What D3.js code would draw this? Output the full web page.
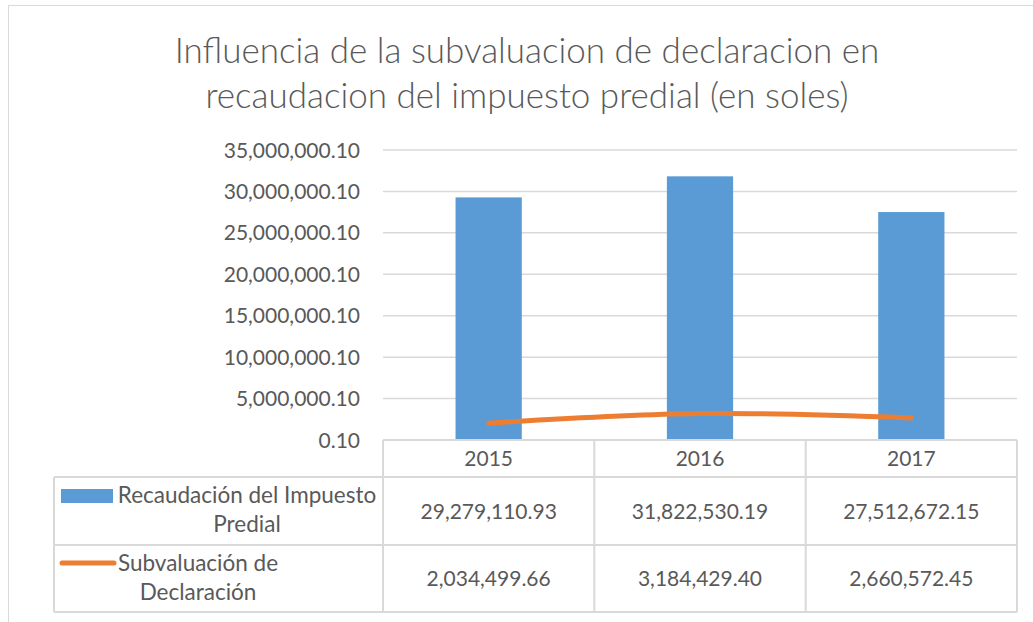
<!DOCTYPE html>
<html>
<head>
<meta charset="utf-8">
<script src="https://cdn.jsdelivr.net/npm/d3@7"></script>
<style>
  body { margin: 0; background: #fff; }
  svg text { font-family: Lato, "Open Sans", sans-serif; fill: #595959; }
</style>
</head>
<body>
<div id="chart"></div>
<script>
const years = ['2015', '2016', '2017'];
const recaudacion = [29279110.93, 31822530.19, 27512672.15];
const subvaluacion = [2034499.66, 3184429.40, 2660572.45];
const yTicks = [0.1, 5000000.1, 10000000.1, 15000000.1, 20000000.1, 25000000.1, 30000000.1, 35000000.1];
const seriesNames = [['Recaudación del Impuesto', 'Predial'], ['Subvaluación de', 'Declaración']];
const titleLines = ['Influencia de la subvaluacion de declaracion en', 'recaudacion del impuesto predial (en soles)'];

const width = 1033, height = 622;
const blue = '#5B9BD5', orange = '#ED7D31', grid = '#D9D9D9';

const svg = d3.select('#chart').append('svg')
    .attr('width', width)
    .attr('height', height);

// chart area border
svg.append('rect')
    .attr('x', 8.5).attr('y', 5.5)
    .attr('width', 1100).attr('height', 700)
    .attr('fill', 'none')
    .attr('stroke', grid);

// title
svg.append('g').selectAll('text')
    .data(titleLines)
  .enter().append('text')
    .attr('x', 527)
    .attr('y', (d, i) => 63 + i * 45)
    .attr('text-anchor', 'middle')
    .style('font-size', '35px')
    .style('font-weight', 300)
    .text(d => d);

const x = d3.scaleBand().domain(years).range([383, 1017]);
const y = d3.scaleLinear().domain([0.1, 35000000.1]).range([440, 150]);
const barW = x.bandwidth() / 3.19;
const fmt = d3.format(',.2f');

// gridlines
svg.append('g').selectAll('line')
    .data(yTicks.slice(1))
  .enter().append('line')
    .attr('x1', 383).attr('x2', 1017)
    .attr('y1', d => y(d)).attr('y2', d => y(d))
    .attr('stroke', grid)
    .attr('stroke-width', 1.5);

// y labels
svg.append('g').selectAll('text')
    .data(yTicks)
  .enter().append('text')
    .attr('x', 360)
    .attr('y', d => y(d) + 7.5)
    .attr('text-anchor', 'end')
    .style('font-size', '21px')
    .text(d => fmt(d));

// bars
svg.append('g').selectAll('rect')
    .data(recaudacion)
  .enter().append('rect')
    .attr('x', (d, i) => x(years[i]) + (x.bandwidth() - barW) / 2)
    .attr('y', d => y(d))
    .attr('width', barW)
    .attr('height', d => y(0.1) - y(d))
    .attr('fill', blue);

// line
const line = d3.line()
    .x((d, i) => x(years[i]) + x.bandwidth() / 2)
    .y(d => y(d))
    .curve(d3.curveCatmullRom.alpha(0.5));

svg.append('path')
    .datum(subvaluacion)
    .attr('d', line)
    .attr('fill', 'none')
    .attr('stroke', orange)
    .attr('stroke-width', 5)
    .attr('stroke-linecap', 'round');

// data table
const rowTop = [440, 477, 545, 612];
const table = svg.append('g')
    .attr('stroke', grid)
    .attr('stroke-width', 2)
    .attr('fill', 'none');

table.append('line').attr('x1', 383).attr('x2', 1017).attr('y1', 440).attr('y2', 440);
[477, 545, 612].forEach(v => {
  table.append('line').attr('x1', 54).attr('x2', 1017).attr('y1', v).attr('y2', v);
});
table.append('line').attr('x1', 54).attr('x2', 54).attr('y1', 477).attr('y2', 612);
years.concat(['end']).forEach((d, i) => {
  const xv = i < years.length ? x(d) : 1017;
  table.append('line').attr('x1', xv).attr('x2', xv).attr('y1', 440).attr('y2', 612);
});

// header years
svg.append('g').selectAll('text')
    .data(years)
  .enter().append('text')
    .attr('x', d => x(d) + x.bandwidth() / 2)
    .attr('y', 466)
    .attr('text-anchor', 'middle')
    .style('font-size', '21px')
    .text(d => d);

// values
[recaudacion, subvaluacion].forEach((series, r) => {
  svg.append('g').selectAll('text')
      .data(series)
    .enter().append('text')
      .attr('x', (d, i) => x(years[i]) + x.bandwidth() / 2)
      .attr('y', (rowTop[r + 1] + rowTop[r + 2]) / 2 + 7.5)
      .attr('text-anchor', 'middle')
      .style('font-size', '21px')
      .text(d => fmt(d));
});

// legend labels
const labelCx = [247, 198];
const baseY = [503, 571];
seriesNames.forEach((lines, r) => {
  lines.forEach((t, k) => {
    svg.append('text')
        .attr('x', labelCx[r])
        .attr('y', baseY[r] + k * 29)
        .attr('text-anchor', 'middle')
        .style('font-size', '22.5px')
        .text(t);
  });
});

// legend keys
svg.append('rect')
    .attr('x', 61).attr('y', 489)
    .attr('width', 52).attr('height', 14)
    .attr('fill', blue);
svg.append('line')
    .attr('x1', 62).attr('x2', 114)
    .attr('y1', 563).attr('y2', 563)
    .attr('stroke', orange)
    .attr('stroke-width', 5)
    .attr('stroke-linecap', 'round');
</script>
</body>
</html>
